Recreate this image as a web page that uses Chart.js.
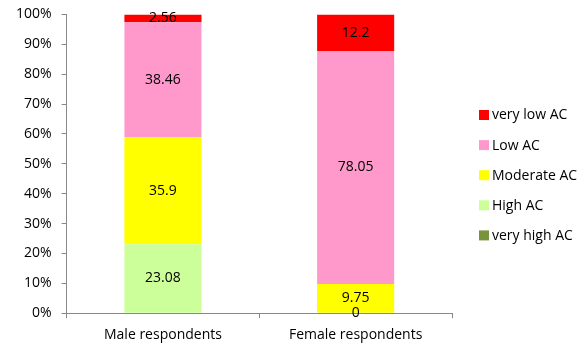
<!DOCTYPE html>
<html>
<head>
<meta charset="utf-8">
<script src="https://cdn.jsdelivr.net/npm/chart.js@4/dist/chart.umd.min.js"></script>
<style>
  html, body { margin: 0; padding: 0; background: #ffffff; }
  #wrap { width: 581px; height: 343px; position: relative; }
</style>
</head>
<body>
<div id="wrap"><canvas id="c" width="581" height="343"></canvas></div>
<script>
// Respondent groups on the x axis
const categories = ['Male respondents', 'Female respondents'];

// Share of respondents (%) per AC level, bottom of the stack first
const veryHighAC = [null, null];
const highAC     = [23.08, 0];
const moderateAC = [35.9, 9.75];
const lowAC      = [38.46, 78.05];
const veryLowAC  = [2.56, 12.2];

// Y axis tick values
const yTicks = [0, 10, 20, 30, 40, 50, 60, 70, 80, 90, 100];

const FONT = "'Open Sans', 'Liberation Sans', sans-serif";

// Writes each segment's value in the middle of its bar piece
const valueLabels = {
  id: 'valueLabels',
  afterDatasetsDraw(chart) {
    const ctx = chart.ctx;
    ctx.save();
    ctx.font = '14px ' + FONT;
    ctx.fillStyle = '#000000';
    ctx.textAlign = 'center';
    ctx.textBaseline = 'middle';
    chart.data.datasets.forEach((ds, i) => {
      const meta = chart.getDatasetMeta(i);
      meta.data.forEach((bar, j) => {
        const v = ds.data[j];
        if (v === null || v === undefined) return;
        const p = bar.getProps(['x', 'y', 'base'], true);
        ctx.fillText(String(v), p.x, (p.y + p.base) / 2);
      });
    });
    ctx.restore();
  }
};

// Legend listed top-down from the top of the stack
const sideLegend = {
  id: 'sideLegend',
  afterDraw(chart) {
    const ctx = chart.ctx;
    const items = chart.data.datasets.slice().reverse();
    const x0 = 479, y0 = 115, step = 30.1;
    ctx.save();
    ctx.font = '14px ' + FONT;
    ctx.textAlign = 'left';
    ctx.textBaseline = 'middle';
    items.forEach((ds, k) => {
      const cy = y0 + k * step;
      ctx.fillStyle = ds.backgroundColor;
      ctx.fillRect(x0, cy - 5, 10, 10);
      ctx.fillStyle = '#000000';
      ctx.fillText(ds.label, x0 + 13, cy + 0.5);
    });
    ctx.restore();
  }
};

new Chart(document.getElementById('c'), {
  type: 'bar',
  data: {
    labels: categories,
    datasets: [
      { label: 'very high AC', data: veryHighAC, backgroundColor: '#77933C' },
      { label: 'High AC',      data: highAC,     backgroundColor: '#CCFF99' },
      { label: 'Moderate AC',  data: moderateAC, backgroundColor: '#FFFF00' },
      { label: 'Low AC',       data: lowAC,      backgroundColor: '#FF99CC' },
      { label: 'very low AC',  data: veryLowAC,  backgroundColor: '#FF0000' }
    ]
  },
  options: {
    responsive: false,
    animation: false,
    devicePixelRatio: 1,
    layout: { autoPadding: false, padding: { left: 6, right: 129, top: 14.5, bottom: -8 } },
    datasets: { bar: { barPercentage: 0.4, categoryPercentage: 1.0, borderWidth: 0 } },
    plugins: {
      legend: { display: false },
      tooltip: { enabled: false }
    },
    scales: {
      x: {
        stacked: true,
        grid: {
          offset: true,
          drawOnChartArea: false,
          drawTicks: true,
          tickLength: 5,
          color: '#888888'
        },
        border: { display: true, color: '#888888', width: 1 },
        ticks: { color: '#000000', font: { family: FONT, size: 14 }, padding: 8 }
      },
      y: {
        stacked: true,
        min: 0,
        max: 100,
        afterBuildTicks(scale) {
          scale.ticks = yTicks.map(v => ({ value: v }));
        },
        grid: {
          drawOnChartArea: false,
          drawTicks: true,
          tickLength: 5,
          color: '#888888'
        },
        border: { display: true, color: '#888888', width: 1 },
        ticks: {
          color: '#000000',
          font: { family: FONT, size: 14, lineHeight: 0.6 },
          padding: 10,
          callback: v => v + '%'
        }
      }
    }
  },
  plugins: [valueLabels, sideLegend]
});
</script>
</body>
</html>
